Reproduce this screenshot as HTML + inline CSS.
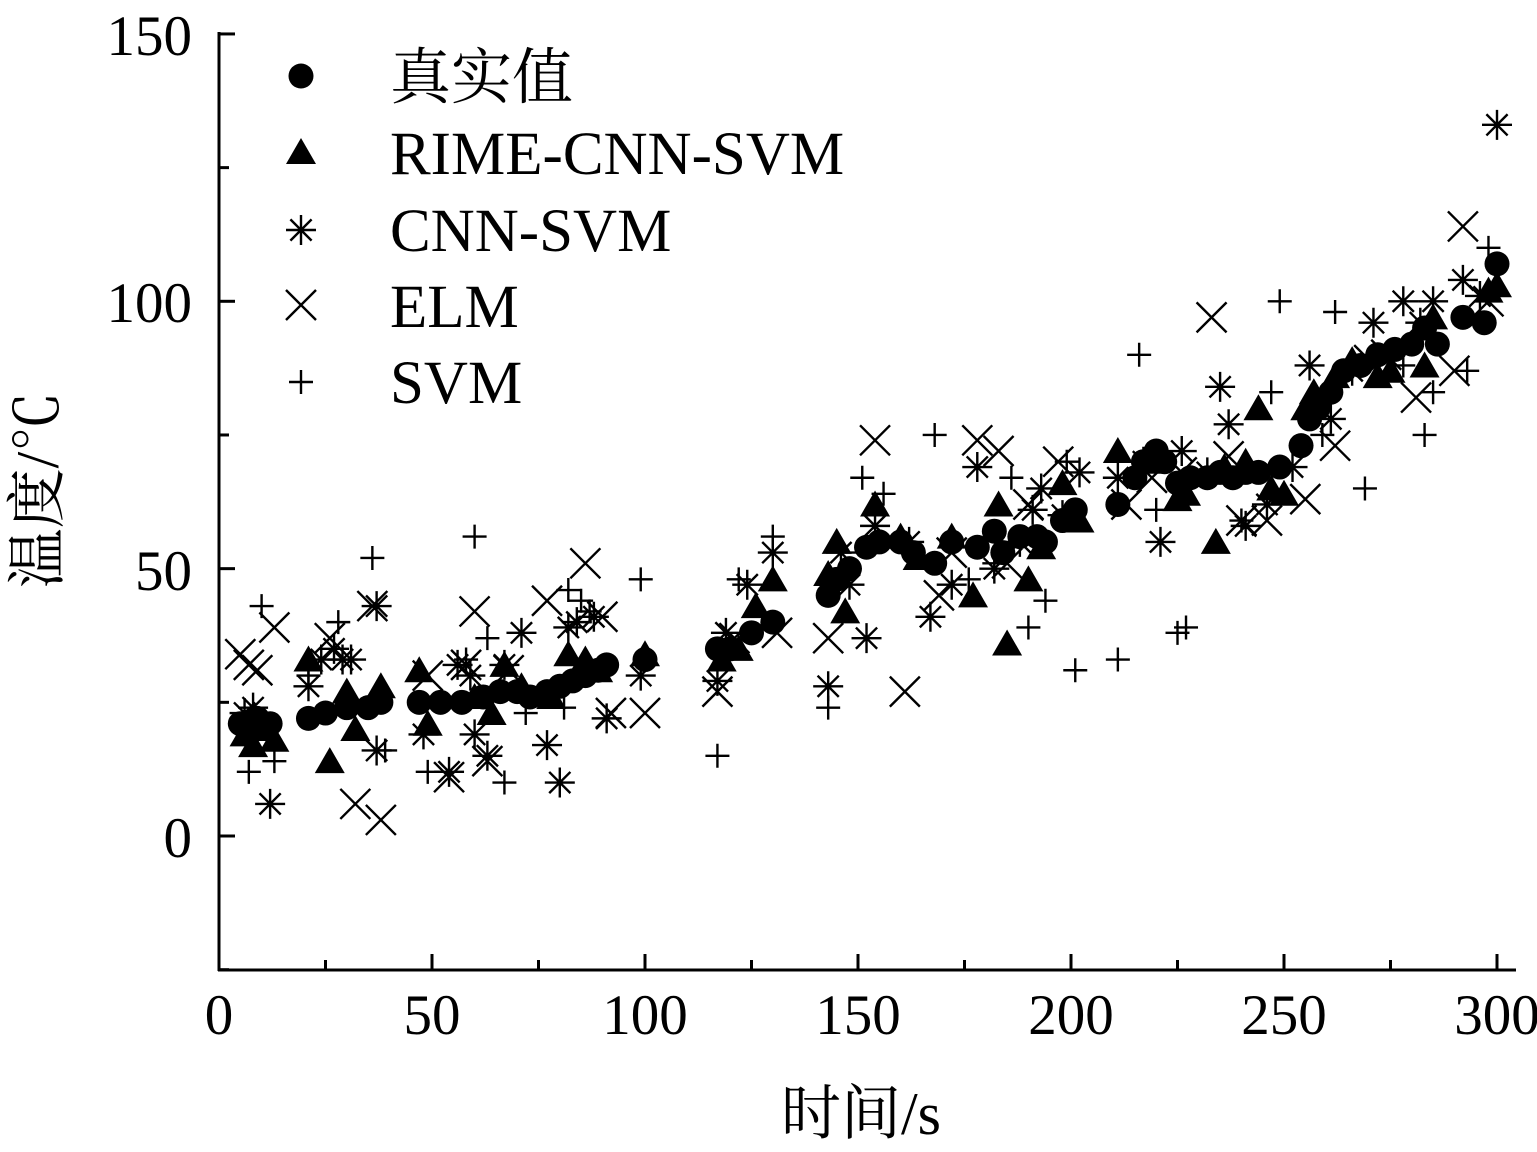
<!DOCTYPE html>
<html><head><meta charset="utf-8"><style>
html,body{margin:0;padding:0;background:#fff;}
svg{display:block;}
text{font-family:"Liberation Serif","Noto Serif CJK SC",serif;fill:#000;}
</style></head><body>
<svg id="s" width="1537" height="1152" viewBox="0 0 1537 1152" xmlns="http://www.w3.org/2000/svg">
<g stroke="#000" stroke-width="3" fill="none">
<line x1="219" y1="32" x2="219" y2="971"/>
<line x1="218" y1="970" x2="1516" y2="970"/>
</g>
<g id="ticks" stroke="#000" stroke-width="3"></g>
<g font-size="57" text-anchor="end">
<text x="192" y="55">150</text>
<text x="192" y="322">100</text>
<text x="192" y="590">50</text>
<text x="192" y="857">0</text>
</g>
<g font-size="57" text-anchor="middle">
<text x="219" y="1034">0</text>
<text x="432" y="1034">50</text>
<text x="645" y="1034">100</text>
<text x="858" y="1034">150</text>
<text x="1071" y="1034">200</text>
<text x="1284" y="1034">250</text>
<text x="1497" y="1034">300</text>
</g>
<text x="861" y="1134" font-size="60" text-anchor="middle">时间/s</text>
<text transform="translate(58,490) rotate(-90)" font-size="60" text-anchor="middle">温度/℃</text>
<g id="pts"></g>
<g font-size="61">
<text x="390" y="98">真实值</text>
<text x="390" y="174">RIME-CNN-SVM</text>
<text x="390" y="251">CNN-SVM</text>
<text x="390" y="327">ELM</text>
<text x="390" y="403">SVM</text>
</g>
</svg>
<script>
const X=v=>219+v*4.26, Y=v=>836-v*5.347;
let t='';
[150,125,100,75,50,25,0,-25].forEach((v,i)=>{const l=(v%50===0)?16:10;t+=`<line x1="219" y1="${Y(v)}" x2="${219+l}" y2="${Y(v)}"/>`;});
for(let v=25;v<=300;v+=25){const l=(v%50===0)?16:10;t+=`<line x1="${X(v)}" y1="970" x2="${X(v)}" y2="${970-l}"/>`;}
document.getElementById('ticks').innerHTML=t;
const C=[[5,21],[7,20],[9,22],[12,21],[21,22],[25,23],[30,24],[35,24],[38,25],[47,25],[52,25],[57,25],[62,26],[66,27],[70,27],[73,26],[77,27],[80,28],[83,29],[86,30],[89,31],[91,32],[100,33],[117,35],[120,35],[125,38],[130,40],[143,45],[145,48],[148,50],[152,54],[155,55],[160,55],[163,53],[168,51],[172,55],[178,54],[182,57],[184,53],[188,56],[192,56],[194,55],[198,59],[201,61],[211,62],[215,67],[217,70],[220,72],[222,70],[225,66],[228,67],[232,67],[235,68],[238,67],[241,68],[244,68],[249,69],[254,73],[256,78],[258,80],[261,83],[264,87],[268,88],[272,90],[276,91],[280,92],[283,95],[286,92],[292,97],[297,96],[300,107]];
const T=[[6,19],[8,17],[10,20],[13,18],[21,33],[26,14],[30,27],[32,20],[38,28],[47,31],[49,21],[60,26],[64,23],[67,32],[71,28],[78,26],[82,34],[86,33],[89,31],[100,34],[118,33],[122,35],[126,43],[130,48],[143,49],[145,55],[147,42],[154,62],[160,56],[164,52],[172,56],[177,45],[183,62],[185,36],[190,48],[193,54],[198,66],[202,59],[211,72],[218,70],[225,63],[227,64],[234,55],[236,69],[241,70],[244,80],[247,65],[250,64],[255,80],[257,83],[262,86],[266,89],[272,86],[275,87],[283,88],[285,97],[298,102],[300,103]];
const A=[[6,23],[8,24],[9,21],[12,6],[21,28],[24,33],[27,35],[29,33],[31,33],[37,16],[37,43],[48,19],[54,12],[56,32],[59,30],[60,19],[63,15],[67,32],[71,38],[77,17],[80,10],[82,39],[84,40],[88,41],[91,22],[99,30],[117,29],[119,38],[124,47],[130,53],[143,28],[146,53],[148,47],[152,37],[154,58],[162,55],[167,41],[172,47],[178,69],[182,50],[188,55],[191,61],[193,65],[198,60],[202,68],[211,67],[217,70],[221,55],[226,72],[232,68],[235,84],[237,77],[241,58],[246,62],[252,69],[256,88],[261,78],[266,87],[271,96],[278,100],[282,96],[285,100],[292,104],[296,101],[300,133]];
const E=[[5,34],[7,32],[9,31],[13,39],[26,37],[32,6],[36,43],[38,3],[49,30],[54,11],[58,32],[60,42],[63,14],[68,31],[77,44],[86,51],[90,41],[92,23],[100,23],[117,27],[121,37],[131,38],[143,37],[154,74],[161,27],[169,45],[172,53],[178,74],[183,72],[185,51],[190,62],[197,70],[213,62],[219,67],[226,68],[233,97],[237,71],[240,59],[246,59],[255,63],[262,73],[270,89],[274,90],[281,82],[290,87],[292,114],[298,100]];
const P=[[7,12],[10,43],[13,14],[21,30],[28,40],[36,52],[39,16],[49,12],[58,33],[60,56],[63,37],[67,10],[72,23],[81,24],[82,46],[85,44],[87,42],[99,48],[117,15],[122,48],[130,56],[143,24],[151,67],[156,64],[168,75],[176,48],[182,51],[186,67],[190,39],[194,44],[199,70],[201,31],[211,33],[216,90],[220,61],[225,38],[227,39],[240,59],[247,83],[249,100],[259,75],[262,98],[269,65],[278,88],[283,75],[285,83],[293,87],[298,110]];
let s='';
const circ=(x,y)=>`<circle cx="${x}" cy="${y}" r="12.5" fill="#000"/>`;
const tri=(x,y)=>`<polygon points="${x},${y-14} ${x-15},${y+12} ${x+15},${y+12}" fill="#000"/>`;
const ast=(x,y)=>{let r=15,d=10.6;return `<path d="M${x-r} ${y}H${x+r}M${x} ${y-r}V${y+r}M${x-d} ${y-d}L${x+d} ${y+d}M${x-d} ${y+d}L${x+d} ${y-d}" stroke="#000" stroke-width="2.4" fill="none"/>`};
const ex=(x,y)=>{let d=15;return `<path d="M${x-d} ${y-d}L${x+d} ${y+d}M${x-d} ${y+d}L${x+d} ${y-d}" stroke="#000" stroke-width="2.4" fill="none"/>`};
const pl=(x,y)=>{let r=12;return `<path d="M${x-r} ${y}H${x+r}M${x} ${y-r}V${y+r}" stroke="#000" stroke-width="2.4" fill="none"/>`};
P.forEach(p=>s+=pl(X(p[0]),Y(p[1])));
E.forEach(p=>s+=ex(X(p[0]),Y(p[1])));
A.forEach(p=>s+=ast(X(p[0]),Y(p[1])));
T.forEach(p=>s+=tri(X(p[0]),Y(p[1])));
C.forEach(p=>s+=circ(X(p[0]),Y(p[1])));
s+=circ(301,76)+tri(301,152)+ast(301,230)+ex(301,305)+pl(301,382);
document.getElementById('pts').innerHTML=s;
</script>
</body></html>
